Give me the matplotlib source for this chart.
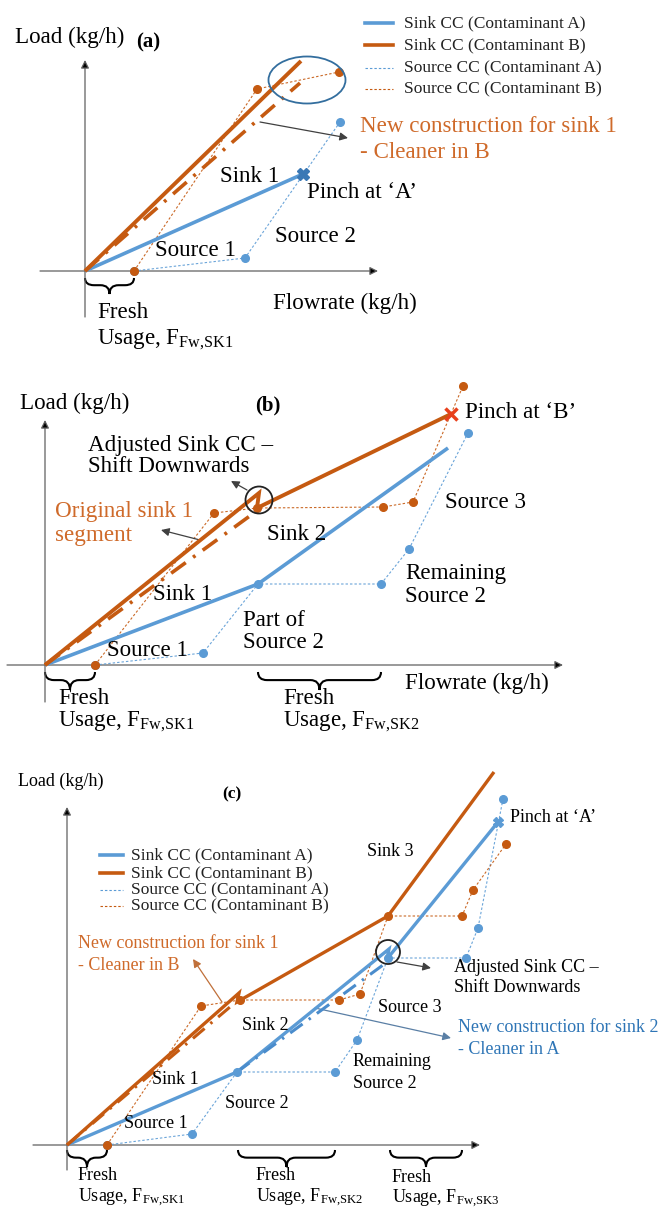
import numpy as np
import matplotlib
matplotlib.use('Agg')
import matplotlib.pyplot as plt
from matplotlib.path import Path
from matplotlib.patches import PathPatch, Ellipse, Circle
from matplotlib.lines import Line2D

plt.rcParams['font.family'] = ['Liberation Serif', 'DejaVu Serif']
plt.rcParams['mathtext.fontset'] = 'custom'
plt.rcParams['mathtext.rm'] = 'Liberation Serif'
plt.rcParams['mathtext.it'] = 'Liberation Serif:italic'
plt.rcParams['mathtext.bf'] = 'Liberation Serif:bold'

W, H = 660, 1208
BLUE = '#5b9bd5'
ORANGE = '#c55a11'
OTXT = '#cf6a2a'
BTXT = '#2e75b6'
AX = '#606060'

# ---------------- data (flowrate, load) per panel ----------------
# Panel (a)
a_sinkA_x = [0, 218];            a_sinkA_y = [0, 97]
a_sinkB_x = [0, 216];            a_sinkB_y = [0, 210]
a_newB_x = [0, 215];             a_newB_y = [0, 188]
a_srcA_x = [49, 160, 255];       a_srcA_y = [0, 13, 149]
a_srcB_x = [49, 172, 254];       a_srcB_y = [0, 182, 199]
a_pinch = (218, 97)
a_fresh = [(0, 49)]

# Panel (b)
b_sinkA_x = [0, 213, 403];       b_sinkA_y = [0, 81, 217]
b_sinkB_x = [0, 214, 212, 406];  b_sinkB_y = [0, 172, 157, 251]
b_origB_x = [0, 213];            b_origB_y = [0, 155]
b_srcA_x = [50, 158, 213, 336, 364, 423]
b_srcA_y = [0, 12, 81, 81, 116, 232]
b_srcB_x = [50, 169, 212, 338, 368, 418]
b_srcB_y = [0, 152, 157, 158, 163, 279]
b_pinch = (406, 251)
b_fresh = [(0, 50), (213, 336)]

# Panel (c)
c_sinkA_x = [0, 170, 322, 320, 431];   c_sinkA_y = [0, 73, 196, 186, 323]
c_sinkB_x = [0, 172, 170, 321, 427];   c_sinkB_y = [0, 152, 143, 229, 373]
c_newB_x = [0, 163];                   c_newB_y = [0, 138]
c_newA_x = [170, 316];                 c_newA_y = [73, 180]
c_srcA_x = [40, 125, 170, 268, 290, 321, 399, 411, 436]
c_srcA_y = [0, 11, 73, 73, 105, 187, 187, 217, 346]
c_srcB_x = [40, 134, 173, 272, 293, 321, 395, 406, 439]
c_srcB_y = [0, 139, 145, 145, 151, 229, 229, 255, 301]
c_pinch = (431, 323)
c_fresh = [(0, 40), (171, 268), (323, 395)]

legend_labels = ['Sink CC (Contaminant A)', 'Sink CC (Contaminant B)',
                 'Source CC (Contaminant A)', 'Source CC (Contaminant B)']

fig = plt.figure(figsize=(W / 100, H / 100), dpi=100)


def panel(top, bottom, ox, oy):
    ax = fig.add_axes([0, 1 - bottom / H, 1, (bottom - top) / H])
    ax.set_xlim(-ox, W - ox)
    ax.set_ylim(oy - bottom, oy - top)
    ax.axis('off')
    return ax


def T(x, y, s, size=16.6, color='black', weight='normal', va='center', ha='left'):
    fig.text(x / W, 1 - y / H, s, fontsize=size, color=color, fontweight=weight,
             va=va, ha=ha)


def axes_arrows(ax, xl, yl):
    ax.annotate('', xy=(xl[1], 0), xytext=(xl[0], 0),
                arrowprops=dict(arrowstyle='-|>', lw=0.9, color=AX, fc='black',
                                mutation_scale=12, shrinkA=0, shrinkB=0))
    ax.annotate('', xy=(0, yl[1]), xytext=(0, yl[0]),
                arrowprops=dict(arrowstyle='-|>', lw=0.9, color=AX, fc='black',
                                mutation_scale=12, shrinkA=0, shrinkB=0))


def brace(ax, x0, x1, ytop, h, lw=1.5):
    xm = (x0 + x1) / 2
    ym = ytop - h * 0.45
    yb = ytop - h
    r = min(9, (x1 - x0) / 4)
    verts = [(x0, ytop), (x0, ym), (x0 + r, ym), (xm - r, ym), (xm, ym), (xm, yb),
             (xm, ym), (xm + r, ym), (x1 - r, ym), (x1, ym), (x1, ytop)]
    codes = [Path.MOVETO, Path.CURVE3, Path.CURVE3, Path.LINETO, Path.CURVE3, Path.CURVE3,
             Path.CURVE3, Path.CURVE3, Path.LINETO, Path.CURVE3, Path.CURVE3]
    ax.add_patch(PathPatch(Path(verts, codes), fill=False, lw=lw, ec='black'))


def sink(ax, x, y, c, lw):
    ax.plot(x, y, color=c, lw=lw, solid_capstyle='butt', solid_joinstyle='miter', zorder=4)


def source(ax, x, y, c):
    ax.plot(x, y, color=c, lw=0.8, ls=(0, (2.2, 1.8)), alpha=0.9, zorder=3)
    ax.plot(x, y, color=c, lw=0, marker='o', ms=5.5, zorder=5)


def dashdot(ax, x, y, c, lw=2.4):
    ax.plot(x, y, color=c, lw=lw, ls=(0, (5, 2.5, 0.8, 2.5)), zorder=4)


def arrow(ax, start, end, color='#404040', lw=0.9):
    ax.annotate('', xy=end, xytext=start,
                arrowprops=dict(arrowstyle='-|>', lw=lw, color=color,
                                mutation_scale=12, shrinkA=0, shrinkB=0))


def legend(x0, x1, xt, ys, size):
    styles = [dict(color=BLUE, lw=2.6), dict(color=ORANGE, lw=2.6),
              dict(color=BLUE, lw=0.8, ls=(0, (2.2, 1.8))),
              dict(color=ORANGE, lw=0.8, ls=(0, (2.2, 1.8)))]
    for lab, st, y in zip(legend_labels, styles, ys):
        fig.add_artist(Line2D([x0 / W, x1 / W], [1 - y / H, 1 - y / H], **st))
        T(xt, y, lab, size=size, color='#222222')


def usage(k):
    return r'Usage, F$_{\mathrm{Fw{,}SK%d}}$' % k


# ================= Panel (a) =================
axa = panel(0, 355, 85, 271)
axes_arrows(axa, (-45, 293), (-46, 211))
source(axa, a_srcA_x, a_srcA_y, BLUE)
source(axa, a_srcB_x, a_srcB_y, ORANGE)
sink(axa, a_sinkA_x, a_sinkA_y, BLUE, 2.6)
sink(axa, a_sinkB_x, a_sinkB_y, ORANGE, 2.8)
dashdot(axa, a_newB_x, a_newB_y, ORANGE, 2.6)
axa.plot(*a_pinch, marker='X', ms=8, color='#3a78b5', mec='#3a78b5', zorder=6)
axa.add_patch(Ellipse((222, 191), 77, 47, fill=False, ec='#336e9e', lw=1.3, zorder=6))
arrow(axa, (175, 149), (263, 133))
for f in a_fresh:
    brace(axa, f[0], f[1], -7, 16)

T(15, 37, 'Load (kg/h)')
T(136, 42, '(a)', size=15, weight='bold')
T(220, 177, 'Sink 1')
T(307, 193, 'Pinch at ‘A’')
T(275, 236, 'Source 2')
T(155, 251, 'Source 1')
T(273, 303, 'Flowrate (kg/h)')
T(97, 313, 'Fresh')
T(97, 340, usage(1))
T(360, 127, 'New construction for sink 1', color=OTXT)
T(360, 153, '- Cleaner in B', color=OTXT)
legend(365, 393, 404, [23, 45, 68, 89], 12.5)

# ================= Panel (b) =================
axb = panel(355, 738, 45, 665)
axes_arrows(axb, (-38, 518), (-37, 245))
source(axb, b_srcA_x, b_srcA_y, BLUE)
source(axb, b_srcB_x, b_srcB_y, ORANGE)
sink(axb, b_sinkA_x, b_sinkA_y, BLUE, 2.6)
sink(axb, b_sinkB_x, b_sinkB_y, ORANGE, 2.8)
dashdot(axb, b_origB_x, b_origB_y, ORANGE, 2.6)
axb.plot(*b_pinch, marker='x', ms=8, mew=2.5, color='#e8401c', zorder=6)
axb.add_patch(Circle((214, 165), 13.5, fill=False, ec='#222222', lw=1.3, zorder=6))
arrow(axb, (202, 175), (186, 184))
arrow(axb, (155, 125), (116, 135))
for f in b_fresh:
    brace(axb, f[0], f[1], -7, 18)

T(20, 403, 'Load (kg/h)')
T(255, 405, '(b)', size=15, weight='bold')
T(88, 445, 'Adjusted Sink CC –')
T(88, 467, 'Shift Downwards')
T(55, 512, 'Original sink 1', color=OTXT)
T(55, 535, 'segment', color=OTXT)
T(267, 534, 'Sink 2')
T(153, 595, 'Sink 1')
T(243, 620, 'Part of')
T(243, 642, 'Source 2')
T(107, 651, 'Source 1')
T(465, 412, 'Pinch at ‘B’')
T(445, 503, 'Source 3')
T(405, 574, 'Remaining')
T(405, 596, 'Source 2')
T(405, 683, 'Flowrate (kg/h)')
T(58, 698, 'Fresh')
T(58, 722, usage(1))
T(283, 698, 'Fresh')
T(283, 722, usage(2))

# ================= Panel (c) =================
axc = panel(738, 1208, 67, 1145)
axes_arrows(axc, (-34, 413), (-25, 338))
source(axc, c_srcA_x, c_srcA_y, BLUE)
source(axc, c_srcB_x, c_srcB_y, ORANGE)
sink(axc, c_sinkA_x, c_sinkA_y, BLUE, 2.4)
sink(axc, c_sinkB_x, c_sinkB_y, ORANGE, 2.4)
dashdot(axc, c_newB_x, c_newB_y, ORANGE, 2.2)
dashdot(axc, c_newA_x, c_newA_y, '#4a8ccc', 2.2)
axc.plot(*c_pinch, marker='X', ms=7, color=BLUE, zorder=6)
axc.add_patch(Circle((321, 193), 12, fill=False, ec='#222222', lw=1.3, zorder=6))
arrow(axc, (330, 183), (364, 177))
arrow(axc, (155, 143), (126, 186), color='#c0703a')
arrow(axc, (248, 137), (384, 107), color='#5a7fa5')
for f in c_fresh:
    brace(axc, f[0], f[1], -5, 17)

S = 13
T(18, 781, 'Load (kg/h)', size=S)
T(222, 794, '(c)', size=12.5, weight='bold')
legend(100, 123, 131, [855, 873, 890, 906], 12.5)
T(78, 944, 'New construction for sink 1', size=S, color=OTXT)
T(78, 965, '- Cleaner in B', size=S, color=OTXT)
T(242, 1025, 'Sink 2', size=S)
T(152, 1080, 'Sink 1', size=S)
T(225, 1103, 'Source 2', size=S)
T(124, 1124, 'Source 1', size=S)
T(367, 852, 'Sink 3', size=S)
T(510, 818, 'Pinch at ‘A’', size=S)
T(454, 968, 'Adjusted Sink CC –', size=S)
T(454, 988, 'Shift Downwards', size=S)
T(378, 1008, 'Source 3', size=S)
T(458, 1028, 'New construction for sink 2', size=S, color=BTXT)
T(458, 1049, '- Cleaner in A', size=S, color=BTXT)
T(353, 1062, 'Remaining', size=S)
T(353, 1083, 'Source 2', size=S)
T(78, 1175, 'Fresh', size=S)
T(78, 1198, usage(1), size=S)
T(256, 1175, 'Fresh', size=S)
T(256, 1198, usage(2), size=S)
T(392, 1177, 'Fresh', size=S)
T(392, 1199, usage(3), size=S)

fig.savefig('out.png', dpi=100)
